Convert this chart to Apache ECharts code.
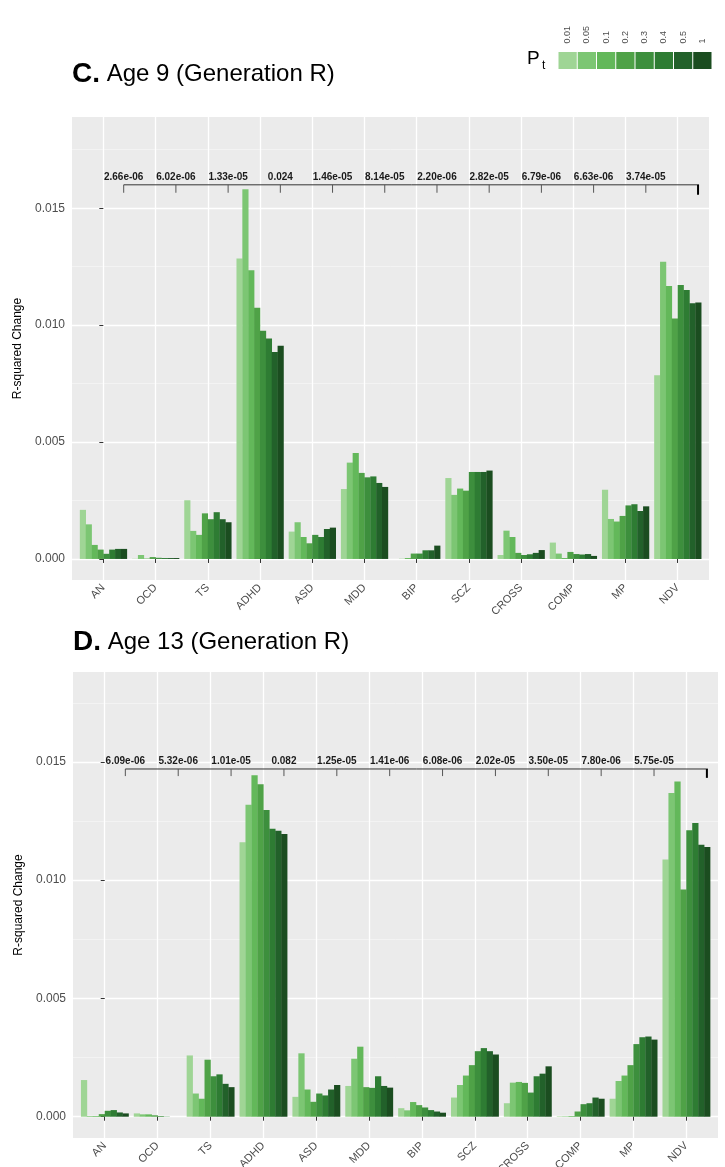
<!DOCTYPE html>
<html>
<head>
<meta charset="utf-8">
<script src="https://cdn.jsdelivr.net/npm/echarts@6/dist/echarts.min.js"></script>
<style>
  html, body { margin: 0; padding: 0; background: #ffffff; }
  #chart { width: 725px; height: 1167px; }
</style>
</head>
<body>
<div id="chart"></div>
<script>
// Disorders on the x axis
const categories = ['AN', 'OCD', 'TS', 'ADHD', 'ASD', 'MDD', 'BIP', 'SCZ', 'CROSS', 'COMP', 'MP', 'NDV'];
// PRS p-value thresholds (Pt), one bar per threshold within each disorder
const thresholds = ['0.01', '0.05', '0.1', '0.2', '0.3', '0.4', '0.5', '1'];
const greens = ['#9fd595', '#7cc673', '#63b85a', '#4fa247', '#3d8f3d', '#2e7c33', '#22612a', '#1b4d20'];

// R-squared change, rows follow categories, columns follow thresholds
const age9R2 = [
  [0.0021, 0.00148, 0.0006, 0.0004, 0.00022, 0.0004, 0.00043, 0.00043],
  [0.00001, 0.00017, 0.00002, 0.00008, 0.00005, 0.00004, 0.00004, 0.00004],
  [0.00251, 0.0012, 0.00103, 0.00195, 0.0017, 0.002, 0.0017, 0.00157],
  [0.01285, 0.01581, 0.01235, 0.01074, 0.00976, 0.00943, 0.00885, 0.00912],
  [0.00117, 0.00157, 0.00094, 0.00067, 0.00103, 0.00094, 0.00128, 0.00134],
  [0.00299, 0.00412, 0.00453, 0.00368, 0.00349, 0.00353, 0.00325, 0.00308],
  [0.0, 0.00001, 0.00004, 0.00023, 0.00023, 0.00037, 0.00037, 0.00057],
  [0.00346, 0.00274, 0.00301, 0.00292, 0.00372, 0.00372, 0.00372, 0.00378],
  [0.00017, 0.00121, 0.00094, 0.00026, 0.00017, 0.0002, 0.00026, 0.00038],
  [0.0007, 0.00023, 0.00004, 0.0003, 0.00021, 0.00019, 0.00021, 0.00013],
  [0.00296, 0.00171, 0.0016, 0.00184, 0.00229, 0.00234, 0.00205, 0.00225],
  [0.00786, 0.01271, 0.01167, 0.01028, 0.01172, 0.0115, 0.01094, 0.01097]
];
const age13R2 = [
  [0.00155, 0.00003, 0.00003, 0.00011, 0.00025, 0.00028, 0.00018, 0.00014],
  [0.00014, 0.0001, 0.0001, 0.00006, 0.00003, 0.00001, 0.0, 0.0],
  [0.00259, 0.00098, 0.00076, 0.00241, 0.00171, 0.00179, 0.00139, 0.00125],
  [0.0116, 0.01319, 0.01444, 0.01405, 0.01297, 0.01217, 0.01209, 0.01195],
  [0.00084, 0.00268, 0.00115, 0.00063, 0.00098, 0.0009, 0.00115, 0.00134],
  [0.0013, 0.00245, 0.00296, 0.00125, 0.00122, 0.00171, 0.0013, 0.00123],
  [0.00036, 0.00027, 0.00062, 0.00049, 0.00039, 0.00028, 0.00022, 0.00017],
  [0.00081, 0.00134, 0.00174, 0.00218, 0.00277, 0.0029, 0.00277, 0.00263],
  [0.00057, 0.00144, 0.00147, 0.00143, 0.00102, 0.00171, 0.00182, 0.00213],
  [0.00002, 0.00002, 0.00003, 0.00022, 0.00053, 0.00057, 0.00081, 0.00076],
  [0.00076, 0.00151, 0.00174, 0.00218, 0.00307, 0.00336, 0.00339, 0.00326],
  [0.01087, 0.01368, 0.01417, 0.00961, 0.01211, 0.01242, 0.0115, 0.0114]
];

// p-values of each disorder compared with NDV
const age9P = ['2.66e-06', '6.02e-06', '1.33e-05', '0.024', '1.46e-05', '8.14e-05', '2.20e-06', '2.82e-05', '6.79e-06', '6.63e-06', '3.74e-05'];
const age13P = ['6.09e-06', '5.32e-06', '1.01e-05', '0.082', '1.25e-05', '1.41e-06', '6.08e-06', '2.02e-05', '3.50e-05', '7.80e-06', '5.75e-05'];

const yTicks = [0, 0.005, 0.01, 0.015];
const yMinorTicks = [0.0025, 0.0075, 0.0125, 0.0175];
const bracketLevels = [0.016, 0.0147];

const FONT = '"Liberation Sans", Arial, Helvetica, sans-serif';
const GROUP_WIDTH = 0.9;
const BRACKET_SHIFT = 0.39;

const panels = [
  { title: 'C.', subtitle: 'Age 9 (Generation R)', titleTop: 60,
    grid: { left: 72, top: 117, width: 637, height: 463 },
    yMin: -0.0009, yMax: 0.0189, rows: age9R2, pvals: age9P, bracket: bracketLevels[0], tip: 0.00034 },
  { title: 'D.', subtitle: 'Age 13 (Generation R)', titleTop: 628,
    grid: { left: 73, top: 672, width: 645, height: 466 },
    yMin: -0.0009, yMax: 0.0188, rows: age13R2, pvals: age13P, bracket: bracketLevels[1], tip: 0.0003 }
];

const catIdx = categories.map((c, i) => i);
const option = {
  animation: false,
  backgroundColor: '#ffffff',
  title: [], grid: [], xAxis: [], yAxis: [], series: [], graphic: []
};

panels.forEach((p, k) => {
  option.title.push({
    text: '{b|' + p.title + '}{r| ' + p.subtitle + '}',
    left: p.grid.left, top: p.titleTop, padding: 0,
    textStyle: {
      fontWeight: 'normal',
      rich: {
        b: { fontFamily: FONT, fontSize: 28, fontWeight: 'bold', color: '#000' },
        r: { fontFamily: FONT, fontSize: 24, fontWeight: 'normal', color: '#000' }
      }
    }
  });
  option.grid.push(Object.assign({
    show: true, backgroundColor: '#EBEBEB', borderWidth: 0,
    containLabel: false, outerBoundsMode: 'none'
  }, p.grid));
  option.xAxis.push({
    type: 'value', gridIndex: k, min: -0.6, max: categories.length - 0.4,
    axisLine: { show: false },
    axisTick: { show: true, customValues: catIdx, length: 4, lineStyle: { color: '#333', width: 1 } },
    axisLabel: {
      customValues: catIdx, rotate: 45, margin: 6,
      formatter: v => categories[Math.round(v)],
      color: '#4D4D4D', fontSize: 11, fontFamily: FONT
    },
    splitLine: { show: true, lineStyle: { color: '#ffffff', width: 1.3 } }
  });
  option.yAxis.push({
    type: 'value', gridIndex: k, min: p.yMin, max: p.yMax,
    name: 'R-squared Change', nameLocation: 'middle', nameGap: 47,
    nameTextStyle: { fontFamily: FONT, fontSize: 12, color: '#000' },
    axisLine: { show: false },
    axisTick: { show: true, customValues: yTicks, length: 4, lineStyle: { color: '#333', width: 1 } },
    axisLabel: {
      customValues: yTicks, margin: 7,
      formatter: v => v.toFixed(3),
      color: '#4D4D4D', fontSize: 12, fontFamily: FONT
    },
    splitLine: { show: true, lineStyle: { color: '#ffffff', width: 1.3 } }
  });
  option.yAxis.push({
    type: 'value', gridIndex: k, min: p.yMin, max: p.yMax, position: 'left',
    axisLine: { show: false },
    axisTick: { show: false, customValues: yMinorTicks },
    axisLabel: { show: false, customValues: yMinorTicks },
    splitLine: { show: true, lineStyle: { color: '#f7f7f7', width: 0.7 } }
  });

  const barW = GROUP_WIDTH / thresholds.length;
  thresholds.forEach((t, j) => {
    option.series.push({
      type: 'custom', name: t, xAxisIndex: k, yAxisIndex: 2 * k,
      data: p.rows.map((r, i) => [i, r[j]]),
      encode: { x: 0, y: 1 },
      renderItem: (params, api) => {
        const x0 = api.value(0) - GROUP_WIDTH / 2 + j * barW;
        const a = api.coord([x0, 0]);
        const b = api.coord([x0 + barW, api.value(1)]);
        return {
          type: 'rect',
          shape: { x: a[0], y: b[1], width: b[0] - a[0] + 0.3, height: a[1] - b[1] },
          style: { fill: greens[j] }
        };
      }
    });
  });

  // significance bracket: every disorder against NDV
  option.series.push({
    type: 'custom', xAxisIndex: k, yAxisIndex: 2 * k, z: 5,
    data: categories.map((c, i) => [i, p.bracket]),
    encode: { x: 0, y: 1 },
    renderItem: (params, api) => {
      const i = api.value(0);
      const lvl = api.value(1);
      const last = i === categories.length - 1;
      const top = api.coord([i + BRACKET_SHIFT, lvl]);
      const bot = api.coord([i + BRACKET_SHIFT, lvl - p.tip * (last ? 1.25 : 1)]);
      const children = [{
        type: 'line',
        shape: { x1: top[0], y1: top[1], x2: bot[0], y2: bot[1] },
        style: { stroke: last ? '#000' : '#555', lineWidth: last ? 2 : 1 }
      }];
      if (i === 0) {
        const end = api.coord([categories.length - 1 + BRACKET_SHIFT, lvl]);
        children.push({
          type: 'line',
          shape: { x1: top[0], y1: top[1], x2: end[0] + 1, y2: end[1] },
          style: { stroke: '#333', lineWidth: 1 }
        });
      }
      if (!last) {
        children.push({
          type: 'text',
          style: {
            x: top[0], y: top[1] - 2.5, text: p.pvals[i],
            font: 'bold 10px ' + FONT, fill: '#1a1a1a',
            align: 'center', verticalAlign: 'bottom'
          }
        });
      }
      return { type: 'group', children: children };
    }
  });
});

// threshold legend (top right)
const legendLeft = 558, legendTop = 52, boxW = 19.25, boxH = 17;
option.graphic.push({ type: 'text', x: 527, y: 49, style: { text: 'P', font: '19px ' + FONT, fill: '#000' } });
option.graphic.push({ type: 'text', x: 542, y: 60, style: { text: 't', font: '12px ' + FONT, fill: '#000' } });
thresholds.forEach((t, j) => {
  option.graphic.push({
    type: 'rect',
    shape: { x: legendLeft + j * boxW + 0.5, y: legendTop, width: boxW - 1, height: boxH },
    style: { fill: greens[j] }
  });
  option.graphic.push({
    type: 'text', x: legendLeft + j * boxW + boxW / 2, y: 43.5, rotation: Math.PI / 2,
    style: { text: t, font: '9px ' + FONT, fill: '#4D4D4D', align: 'left', verticalAlign: 'middle' }
  });
});

const chart = echarts.init(document.getElementById('chart'), null, { renderer: 'canvas' });
chart.setOption(option);
</script>
</body>
</html>
